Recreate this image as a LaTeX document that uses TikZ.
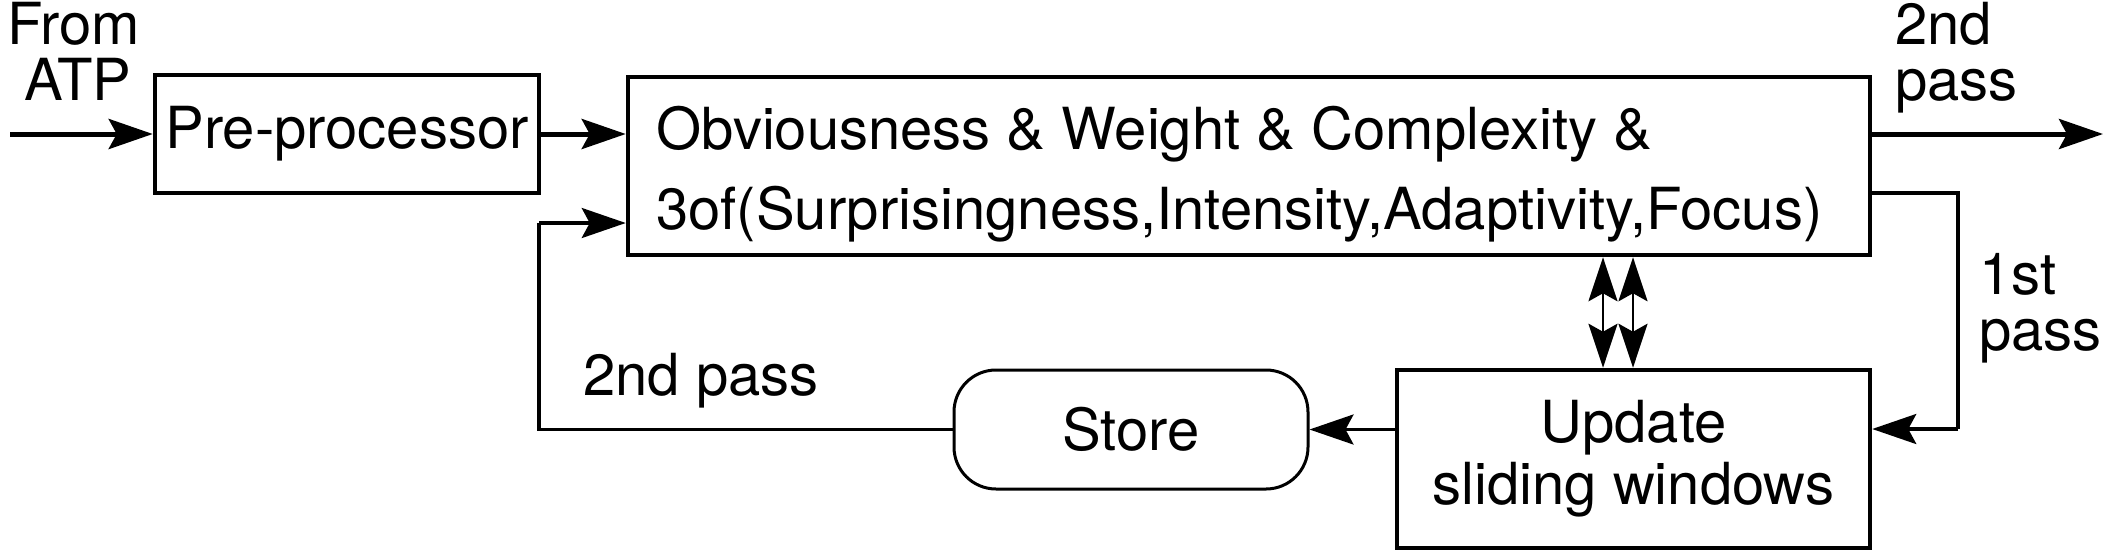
\documentclass[tikz,border=0pt]{standalone}
\usepackage{fontspec}
\setmainfont{TeX Gyre Heros}
\usetikzlibrary{arrows.meta}
\begin{document}
\begin{tikzpicture}[x=1pt,y=-1pt,
  every node/.style={font=\fontsize{58pt}{56pt}\selectfont, inner sep=0pt},
  box/.style={draw, line width=4.5pt, inner sep=0pt},
  storebox/.style={draw, line width=3pt, rounded corners=42pt, inner sep=0pt},
  tip/.style={-{Stealth[length=44pt,width=30pt,inset=8pt]}},
  thickarrow/.style={tip, line width=5pt},
  thinarrow/.style={tip, line width=3.3pt},
  thinline/.style={line width=3.3pt},
  dblarrow/.style={{Stealth[length=44pt,width=29pt,inset=8pt]}-{Stealth[length=44pt,width=29pt,inset=8pt]}, line width=2.6pt},
  lbl/.style={align=left, anchor=base west},
]
\useasboundingbox (0,0) rectangle (2105,550);

% nodes
\node[box, minimum width=384pt, minimum height=118pt] (pre) at (347,134) {Pre-processor};
\node[box, minimum width=1242pt, minimum height=178pt] (main) at (1249,166) {};
\node[anchor=base west] (t1) at (656,149) {Obviousness \& Weight \& Complexity \&};
\node[anchor=base west] (t2) at (656,229) {3of(Surprisingness,Intensity,Adaptivity,Focus)};
\node[box, minimum width=473pt, minimum height=178pt, align=center,
      font=\fontsize{58pt}{62pt}\selectfont] (upd) at (1633.5,459) {Update\\sliding windows};
\node[storebox, minimum width=354pt, minimum height=119pt] (store) at (1131,429.5) {Store};

% labels (anchor at baseline of last line)
\node[lbl] (lfrom) at (7,100) {From\\\hspace*{17pt}ATP};
\node[lbl] (lout) at (1895,100) {2nd\\pass};
\node[lbl] (lfirst) at (1979,350) {1st\\pass};
\node[lbl] (lback) at (583,395) {2nd pass};

% coordinates
\coordinate (in) at (10,134);
\coordinate (out) at (2103,134);
\coordinate (fa) at (1958,193);
\coordinate (fb) at (1958,429);
\coordinate (ba) at (539,429);
\coordinate (bb) at (539,223);
\coordinate (da) at (1603,0);
\coordinate (db) at (1633,0);

% connectors
\draw[thickarrow] (in) -- (pre.west);
\draw[thickarrow] (pre.east) -- (pre.east -| main.west);
\draw[thickarrow] (main.east |- out) -- (out);
\draw[thinline] (main.east |- fa) -- (fa) -- (fb);
\draw[thinarrow] (fb) -- (fb -| upd.east);
\draw[thinarrow] (upd.west |- store.east) -- (store.east);
\draw[thinline] (store.west) -- (store.west -| ba) -- (bb);
\draw[thinarrow] (bb) -- (bb -| main.west);
\draw[dblarrow] (main.south -| da) -- (upd.north -| da);
\draw[dblarrow] (main.south -| db) -- (upd.north -| db);
\end{tikzpicture}
\end{document}
